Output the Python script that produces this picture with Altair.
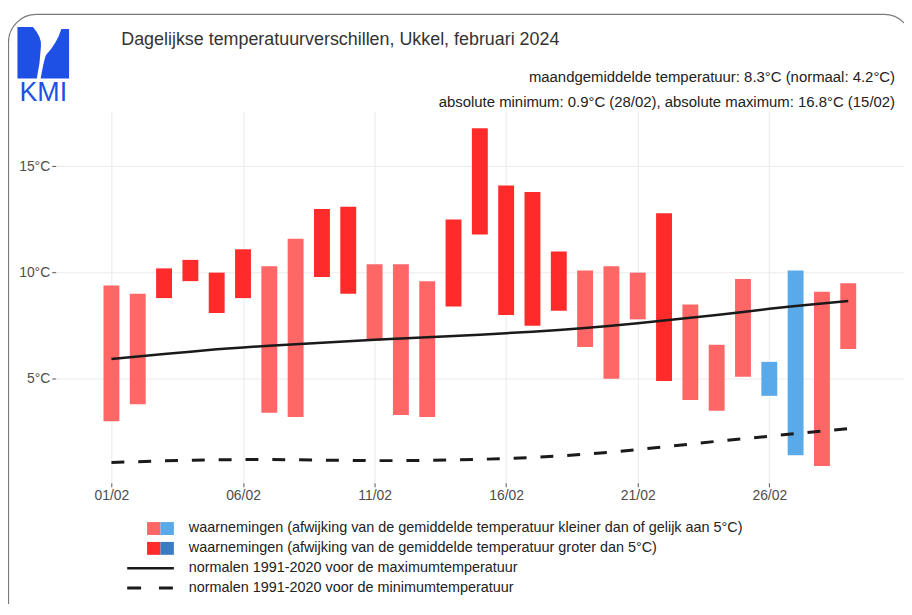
import altair as alt
import pandas as pd

# ---------------- data ----------------
days = list(range(1, 30))
tmin = [3.0, 3.8, 8.8, 9.6, 8.1, 8.8, 3.4, 3.2, 9.8, 9.0, 6.8, 3.3, 3.2, 8.4, 11.8,
        8.0, 7.5, 8.2, 6.5, 5.0, 7.8, 4.9, 4.0, 3.5, 5.1, 4.2, 1.4, 0.9, 6.4]
tmax = [9.4, 9.0, 10.2, 10.6, 10.0, 11.1, 10.3, 11.6, 13.0, 13.1, 10.4, 10.4, 9.6, 12.5, 16.8,
        14.1, 13.8, 11.0, 10.1, 10.3, 10.0, 12.8, 8.5, 6.6, 9.7, 5.8, 10.1, 9.1, 9.5]
klasse = ["rood_klein", "rood_klein", "rood_groot", "rood_groot", "rood_groot", "rood_groot",
          "rood_klein", "rood_klein", "rood_groot", "rood_groot", "rood_klein", "rood_klein",
          "rood_klein", "rood_groot", "rood_groot", "rood_groot", "rood_groot", "rood_groot",
          "rood_klein", "rood_klein", "rood_klein", "rood_groot", "rood_klein", "rood_klein",
          "rood_klein", "blauw_klein", "blauw_klein", "rood_klein", "rood_klein"]
norm_max = [5.93, 6.05, 6.17, 6.28, 6.39, 6.48, 6.56, 6.63, 6.70, 6.77, 6.84, 6.90, 6.96, 7.02, 7.08,
            7.15, 7.22, 7.30, 7.39, 7.50, 7.62, 7.75, 7.88, 8.01, 8.15, 8.30, 8.43, 8.55, 8.66]
norm_min = [1.06, 1.10, 1.14, 1.17, 1.19, 1.20, 1.20, 1.19, 1.17, 1.16, 1.15, 1.15, 1.16, 1.18, 1.21,
            1.25, 1.30, 1.37, 1.45, 1.55, 1.67, 1.80, 1.93, 2.06, 2.18, 2.30, 2.42, 2.54, 2.66]

x_tick_days = [1, 6, 11, 16, 21, 26]
y_ticks = [5, 10, 15]

title_txt = "Dagelijkse temperatuurverschillen, Ukkel, februari 2024"
sub1 = "maandgemiddelde temperatuur: 8.3°C (normaal: 4.2°C)"
sub2 = "absolute minimum: 0.9°C (28/02), absolute maximum: 16.8°C (15/02)"
leg_labels = [
    "waarnemingen (afwijking van de gemiddelde temperatuur kleiner dan of gelijk aan 5°C)",
    "waarnemingen (afwijking van de gemiddelde temperatuur groter dan 5°C)",
    "normalen 1991-2020 voor de maximumtemperatuur",
    "normalen 1991-2020 voor de minimumtemperatuur",
]

LIGHT_RED, DARK_RED = "#ff6666", "#ff2b2b"
LIGHT_BLUE, DARK_BLUE = "#5aa9e8", "#3a7cc0"
LOGO_BLUE = "#1e50e6"
FONT = "Liberation Sans"

df = pd.DataFrame({"dag": days, "tmin": tmin, "tmax": tmax, "klasse": klasse})
dfn = pd.DataFrame({"dag": days, "nmax": norm_max, "nmin": norm_min})
one = pd.DataFrame({"a": [0]})

xscale = alt.Scale(domain=[-0.93, 30.93], nice=False, zero=False)
yscale = alt.Scale(domain=[0.105, 17.595], nice=False, zero=False)

xaxis = alt.Axis(values=x_tick_days, title=None,
                 labelExpr="(datum.value < 10 ? '0' : '') + datum.value + '/02'")
yaxis = alt.Axis(values=y_ticks, title=None, labelExpr="datum.value + '°C'")

bars = alt.Chart(df).mark_bar(size=16).encode(
    x=alt.X("dag:Q", scale=xscale, axis=xaxis),
    y=alt.Y("tmin:Q", scale=yscale, axis=yaxis),
    y2="tmax:Q",
    color=alt.Color("klasse:N", legend=None,
                    scale=alt.Scale(domain=["rood_klein", "rood_groot", "blauw_klein", "blauw_groot"],
                                    range=[LIGHT_RED, DARK_RED, LIGHT_BLUE, DARK_BLUE])),
)

line_max = alt.Chart(dfn).mark_line(color="#1a1a1a", strokeWidth=2.5).encode(
    x=alt.X("dag:Q", scale=xscale), y=alt.Y("nmax:Q", scale=yscale))
line_min = alt.Chart(dfn).mark_line(color="#1a1a1a", strokeWidth=3, strokeDash=[13, 14]).encode(
    x=alt.X("dag:Q", scale=xscale), y=alt.Y("nmin:Q", scale=yscale))

# ---------------- decorations ----------------
frame = alt.Chart(one).mark_rect(fill=None, stroke="#7a7a7a", strokeWidth=1.2, cornerRadius=28).encode(
    x=alt.value(-47.5), x2=alt.value(862), y=alt.value(-97.5), y2=alt.value(560))

logo_path = ("M-1,-1 L-0.4,-1 Q-0.05,-0.6 -0.09,-0.25 Q-0.12,0.4 -0.25,1 L-1,1 Z "
             "M0.7,-0.92 L1,-0.92 L1,1 L-0.1,1 Q0.0,0.4 0.1,0.1 Q0.55,-0.4 0.7,-0.92 Z")
logo = alt.Chart(one).mark_point(shape=logo_path, filled=True, fill=LOGO_BLUE, stroke=None,
                                 size=2700, opacity=1).encode(
    x=alt.value(-12.5), y=alt.value(-59))
logo_txt = alt.Chart(one).mark_text(text="KMI", font=FONT, fontSize=27, color=LOGO_BLUE,
                                    baseline="middle", align="center").encode(
    x=alt.value(-12.5), y=alt.value(-18))

title = alt.Chart(one).mark_text(text=title_txt, font=FONT, fontSize=18, color="#333333",
                                 align="left", baseline="middle").encode(
    x=alt.value(66), y=alt.value(-72))
s1 = alt.Chart(one).mark_text(text=sub1, font=FONT, fontSize=15, color="#222222",
                              align="right", baseline="middle").encode(
    x=alt.value(845), y=alt.value(-35))
s2 = alt.Chart(one).mark_text(text=sub2, font=FONT, fontSize=15, color="#222222",
                              align="right", baseline="middle").encode(
    x=alt.value(845), y=alt.value(-9))

# ---------------- legend ----------------
leg = []
rows_y = [420, 440, 460, 480]
for i, (c1, c2) in enumerate([(LIGHT_RED, LIGHT_BLUE), (DARK_RED, DARK_BLUE)]):
    yc = rows_y[i]
    leg.append(alt.Chart(one).mark_rect(color=c1).encode(
        x=alt.value(92), x2=alt.value(105.5), y=alt.value(yc - 6.5), y2=alt.value(yc + 6.5)))
    leg.append(alt.Chart(one).mark_rect(color=c2).encode(
        x=alt.value(105.5), x2=alt.value(119), y=alt.value(yc - 6.5), y2=alt.value(yc + 6.5)))
leg.append(alt.Chart(one).mark_rule(color="#1a1a1a", strokeWidth=2.5).encode(
    x=alt.value(72), x2=alt.value(119), y=alt.value(rows_y[2])))
leg.append(alt.Chart(one).mark_rule(color="#1a1a1a", strokeWidth=3, strokeDash=[14, 18]).encode(
    x=alt.value(72), x2=alt.value(119), y=alt.value(rows_y[3])))
for yc, lab in zip(rows_y, leg_labels):
    leg.append(alt.Chart(one).mark_text(text=lab, font=FONT, fontSize=14.5, color="#222222",
                                        align="left", baseline="middle").encode(
        x=alt.value(134), y=alt.value(yc)))

chart = alt.layer(frame, bars, line_max, line_min, logo, logo_txt, title, s1, s2, *leg).properties(
    width=854, height=374,
    autosize=alt.AutoSizeParams(type="none"),
    padding={"left": 48, "top": 102, "right": 0, "bottom": 120},
    background="white",
).configure_view(stroke=None).configure_axis(
    domain=False, grid=True, gridColor="#ebebeb", gridWidth=1.1,
    tickColor="#555555", tickSize=4, labelColor="#4d4d4d", labelFontSize=14,
    labelFont=FONT, labelPadding=2,
)

chart.save("out.html", embed_options={"renderer": "svg", "actions": False})
